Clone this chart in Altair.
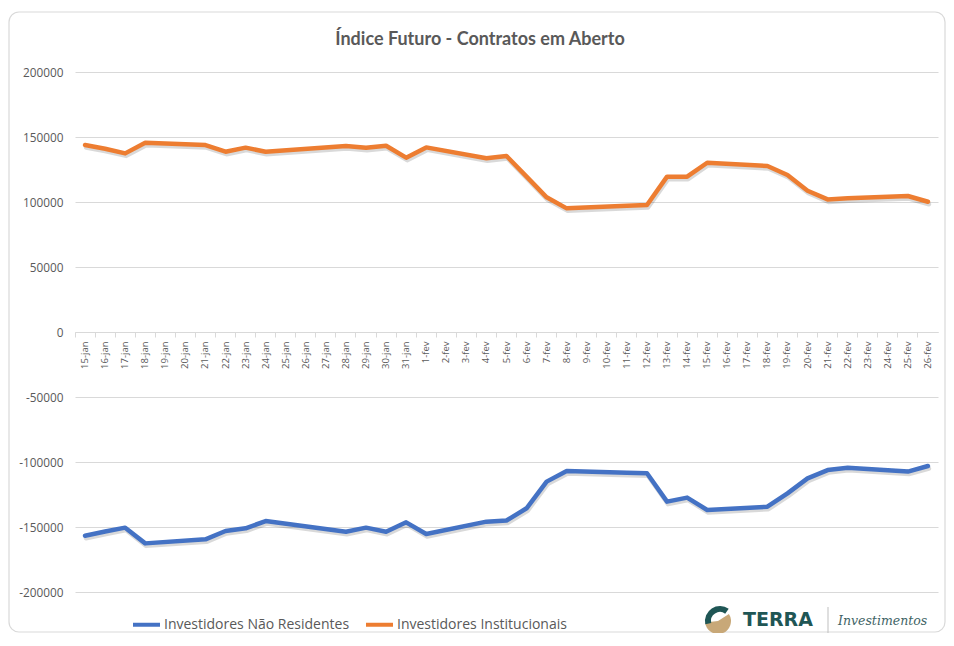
import altair as alt
import pandas as pd

days = ["15-jan", "16-jan", "17-jan", "18-jan", "19-jan", "20-jan", "21-jan", "22-jan",
        "23-jan", "24-jan", "25-jan", "26-jan", "27-jan", "28-jan", "29-jan", "30-jan",
        "31-jan", "1-fev", "2-fev", "3-fev", "4-fev", "5-fev", "6-fev", "7-fev", "8-fev",
        "9-fev", "10-fev", "11-fev", "12-fev", "13-fev", "14-fev", "15-fev", "16-fev",
        "17-fev", "18-fev", "19-fev", "20-fev", "21-fev", "22-fev", "23-fev", "24-fev",
        "25-fev", "26-fev"]

dates = ["15-jan", "16-jan", "17-jan", "18-jan", "21-jan", "22-jan", "23-jan", "24-jan",
         "28-jan", "29-jan", "30-jan", "31-jan", "1-fev", "4-fev", "5-fev", "6-fev",
         "7-fev", "8-fev", "11-fev", "12-fev", "13-fev", "14-fev", "15-fev", "18-fev",
         "19-fev", "20-fev", "21-fev", "22-fev", "25-fev", "26-fev"]

nao_residentes = [-156700, -153500, -150500, -162600, -159500, -153100, -151000, -145400,
                  -153600, -150500, -153600, -146400, -155400, -145900, -145000, -135600,
                  -115100, -106900, -108200, -108700, -130500, -127400, -136900, -134400,
                  -124100, -112600, -106200, -104400, -107400, -103100]

institucionais = [143800, 141000, 137400, 145600, 143800, 138700, 141800, 138700,
                  143100, 141800, 143300, 134100, 142000, 133600, 135400, 119500,
                  103600, 95100, 97200, 97700, 119500, 119500, 130200, 127700,
                  120800, 108700, 102000, 102800, 104600, 100200]

series = ["Investidores Não Residentes", "Investidores Institucionais"]
colors = ["#4472C4", "#ED7D31"]
y_ticks = [-200000, -150000, -100000, -50000, 0, 50000, 100000, 150000, 200000]

rows = []
for s, vals in zip(series, [nao_residentes, institucionais]):
    for d, v in zip(dates, vals):
        rows.append({"dia": d, "serie": s, "valor": v, "ordem": days.index(d)})
df = pd.DataFrame(rows)

W, H = 863, 520
GRAY = "#595959"

x_enc = alt.X(
    "dia:O",
    scale=alt.Scale(type="band", domain=days, paddingInner=0, paddingOuter=0),
    axis=alt.Axis(title=None, offset=-260, labelAngle=270, labelFontSize=9.5,
                  labelColor=GRAY, labelFont="Open Sans", tickColor="#D9D9D9",
                  tickSize=5, domainColor="#D9D9D9", labelPadding=4,
                  bandPosition=0, grid=False),
)
y_enc = alt.Y(
    "valor:Q",
    scale=alt.Scale(domain=[-200000, 200000], nice=False, zero=False),
    axis=alt.Axis(title=None, values=y_ticks, labelExpr="datum.value + ''",
                  labelFont="Open Sans", labelFontSize=11.8, labelColor=GRAY,
                  labelPadding=12, ticks=False, domain=False,
                  gridColor="#D9D9D9", gridWidth=1),
)

shadow = alt.Chart(df).mark_line(
    strokeWidth=4.5, color="#000000", opacity=0.15, xOffset=1, yOffset=2.5,
    strokeJoin="round", strokeCap="round"
).encode(x=x_enc, y=y_enc, detail="serie:N", order="ordem:Q")

lines = alt.Chart(df).mark_line(
    strokeWidth=4.5, strokeJoin="round", strokeCap="round"
).encode(
    x=x_enc, y=y_enc,
    color=alt.Color("serie:N", scale=alt.Scale(domain=series, range=colors),
                    legend=alt.Legend(title=None, orient="none", legendX=56, legendY=537,
                                      direction="horizontal", symbolType="stroke",
                                      symbolSize=729, symbolStrokeWidth=4,
                                      labelFont="Open Sans", labelFontSize=14,
                                      labelColor=GRAY, columnPadding=8, labelOffset=2,
                                      labelLimit=400)),
    order="ordem:Q",
)

one = alt.Data(values=[{}])

title = alt.Chart(one).mark_text(
    text="Índice Futuro - Contratos em Aberto", font="Lato", fontWeight="bold",
    fontSize=18, color=GRAY, align="center", baseline="middle"
).encode(x=alt.value(405), y=alt.value(-32))

border = alt.Chart(one).mark_rect(
    fill="transparent", stroke="#D9D9D9", strokeWidth=1.2, cornerRadius=10
).encode(x=alt.value(-66), x2=alt.value(870), y=alt.value(-60), y2=alt.value(560))

icon_tan = alt.Chart(one).mark_arc(
    color="#C8A878", outerRadius=13, innerRadius=0, theta=1.0, theta2=4.6
).encode(x=alt.value(643), y=alt.value(549))
icon_teal = alt.Chart(one).mark_arc(
    color="#1F5655", outerRadius=15, innerRadius=9, theta=4.5, theta2=6.9
).encode(x=alt.value(645), y=alt.value(549))

terra = alt.Chart(one).mark_text(
    text="TERRA", font="DejaVu Sans", fontWeight="bold", fontSize=19,
    color="#1F5655", align="left", baseline="middle"
).encode(x=alt.value(668), y=alt.value(548))

sep = alt.Chart(one).mark_rule(color="#BFBFBF", strokeWidth=1).encode(
    x=alt.value(753), y=alt.value(535), y2=alt.value(561))

invest = alt.Chart(one).mark_text(
    text="Investimentos", font="DejaVu Serif", fontStyle="italic", fontSize=12.5,
    color="#3F6466", align="left", baseline="middle"
).encode(x=alt.value(763), y=alt.value(549))

chart = alt.layer(border, shadow, lines, title, icon_tan, icon_teal, terra, sep, invest).properties(
    width=W, height=H,
    autosize=alt.AutoSizeParams(type="none"),
    padding={"left": 67, "top": 64, "right": 8, "bottom": 41},
).configure_view(stroke=None)

chart.save("out.html", embed_options={"renderer": "svg", "actions": False})
